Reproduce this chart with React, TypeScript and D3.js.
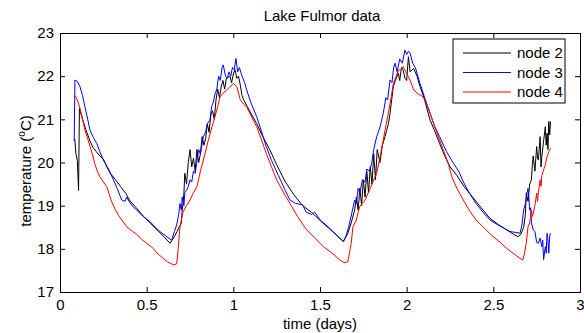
import React, { useEffect, useRef } from 'react';
import * as d3 from 'd3';

// [time (days), temperature (C)]
const node2: [number, number][] = [
  [0.085, 20.55], [0.092, 20.2], [0.1, 20.05], [0.107, 19.35], [0.112, 21.25], [0.13, 21.0], [0.15, 20.75],
  [0.173, 20.5], [0.19, 20.35], [0.21, 20.25], [0.23, 20.15], [0.25, 20.08], [0.27, 19.9], [0.29, 19.75],
  [0.32, 19.6], [0.35, 19.44], [0.38, 19.28], [0.4, 19.13], [0.44, 18.95], [0.48, 18.76], [0.52, 18.6],
  [0.56, 18.44], [0.6, 18.28], [0.635, 18.13], [0.655, 18.25], [0.675, 18.4], [0.7, 18.6], [0.705, 18.9],
  [0.71, 19.05], [0.715, 19.3], [0.72, 19.75], [0.73, 19.5], [0.74, 20.0], [0.75, 20.3], [0.76, 19.9],
  [0.77, 20.1], [0.78, 19.8], [0.79, 20.3], [0.8, 20.0], [0.81, 20.2], [0.82, 20.6], [0.83, 20.4],
  [0.84, 20.55], [0.85, 20.9], [0.86, 20.7], [0.87, 21.1], [0.88, 21.2], [0.89, 21.0], [0.9, 21.45],
  [0.91, 21.7], [0.92, 21.5], [0.93, 21.75], [0.94, 21.9], [0.95, 21.7], [0.96, 21.95], [0.98, 22.0],
  [0.99, 21.85], [1.0, 22.05], [1.01, 22.15], [1.02, 21.95], [1.03, 22.0], [1.04, 21.8], [1.05, 21.55],
  [1.06, 21.45], [1.08, 21.3], [1.1, 21.15], [1.135, 20.9], [1.17, 20.6], [1.21, 20.3], [1.25, 19.95],
  [1.3, 19.55], [1.35, 19.25], [1.4, 19.0], [1.45, 18.85], [1.5, 18.66], [1.55, 18.48], [1.6, 18.3],
  [1.635, 18.17], [1.66, 18.35], [1.68, 18.6], [1.7, 18.9], [1.71, 19.2], [1.72, 18.9], [1.73, 19.4],
  [1.74, 19.0], [1.75, 19.6], [1.76, 19.2], [1.77, 19.8], [1.78, 19.3], [1.79, 19.9], [1.8, 19.5],
  [1.81, 20.2], [1.82, 19.6], [1.83, 20.3], [1.846, 20.0], [1.86, 20.4], [1.875, 20.6], [1.885, 20.75],
  [1.895, 20.9], [1.904, 21.14], [1.915, 21.5], [1.923, 21.76], [1.935, 21.9], [1.952, 22.07], [1.96, 21.9],
  [1.97, 22.2], [1.98, 22.14], [1.99, 21.95], [2.0, 21.9], [2.01, 22.45], [2.02, 22.1], [2.04, 22.18],
  [2.06, 22.0], [2.077, 21.76], [2.1, 21.5], [2.135, 20.98], [2.16, 20.75], [2.19, 20.44], [2.22, 20.15],
  [2.25, 19.9], [2.29, 19.7], [2.33, 19.45], [2.38, 19.2], [2.43, 18.95], [2.48, 18.71], [2.53, 18.56],
  [2.577, 18.44], [2.62, 18.33], [2.644, 18.28], [2.66, 18.35], [2.675, 18.5], [2.685, 18.8], [2.69, 19.3],
  [2.7, 19.1], [2.71, 19.5], [2.72, 19.6], [2.725, 19.95], [2.73, 20.15], [2.74, 19.8], [2.75, 20.37],
  [2.755, 20.1], [2.76, 20.06], [2.77, 20.6], [2.775, 19.9], [2.78, 20.14], [2.79, 20.5], [2.8, 20.83],
  [2.805, 20.4], [2.81, 20.68], [2.815, 20.3], [2.82, 20.95], [2.825, 20.64], [2.83, 20.95],
];

const node3: [number, number][] = [
  [0.082, 20.5], [0.086, 21.91], [0.1, 21.88], [0.115, 21.76], [0.13, 21.55], [0.144, 21.29], [0.16, 21.0],
  [0.173, 20.75], [0.19, 20.6], [0.212, 20.44], [0.23, 20.25], [0.25, 20.06], [0.28, 19.85], [0.308, 19.6],
  [0.33, 19.4], [0.356, 19.13], [0.375, 19.1], [0.385, 19.2], [0.394, 19.13], [0.42, 18.98], [0.442, 18.9],
  [0.48, 18.75], [0.519, 18.63], [0.55, 18.5], [0.577, 18.4], [0.61, 18.3], [0.644, 18.2], [0.66, 18.4],
  [0.673, 18.55], [0.685, 18.8], [0.692, 19.05], [0.7, 18.9], [0.705, 19.2], [0.715, 19.0], [0.72, 19.3],
  [0.731, 19.36], [0.74, 19.45], [0.75, 19.6], [0.76, 19.55], [0.77, 19.8], [0.78, 19.75], [0.788, 19.98],
  [0.8, 20.3], [0.81, 20.2], [0.827, 20.6], [0.84, 20.7], [0.85, 20.9], [0.865, 20.98], [0.875, 21.3],
  [0.885, 21.4], [0.895, 21.6], [0.904, 21.68], [0.915, 22.0], [0.925, 21.9], [0.935, 22.2], [0.942, 22.26],
  [0.955, 22.0], [0.965, 21.95], [0.975, 22.1], [0.985, 22.0], [0.995, 22.2], [1.005, 22.15], [1.015, 22.41],
  [1.025, 22.1], [1.035, 22.2], [1.05, 22.0], [1.065, 21.85], [1.077, 21.68], [1.1, 21.4], [1.135, 21.06],
  [1.16, 20.75], [1.19, 20.37], [1.22, 20.05], [1.26, 19.7], [1.3, 19.35], [1.327, 19.13], [1.36, 19.05],
  [1.4, 19.02], [1.42, 18.85], [1.45, 18.8], [1.47, 18.85], [1.5, 18.67], [1.55, 18.5], [1.6, 18.3],
  [1.635, 18.17], [1.65, 18.3], [1.665, 18.5], [1.683, 18.82], [1.7, 19.13], [1.71, 19.05], [1.72, 19.4],
  [1.73, 19.3], [1.745, 19.6], [1.76, 19.55], [1.77, 19.85], [1.785, 19.8], [1.798, 19.98], [1.81, 20.3],
  [1.827, 20.6], [1.845, 20.8], [1.865, 21.14], [1.88, 21.5], [1.89, 21.45], [1.904, 21.91], [1.915, 21.85],
  [1.925, 22.2], [1.933, 22.3], [1.945, 22.1], [1.96, 22.4], [1.975, 22.3], [1.99, 22.6], [2.0, 22.5],
  [2.01, 22.58], [2.02, 22.53], [2.035, 22.3], [2.05, 22.2], [2.077, 21.83], [2.1, 21.55], [2.135, 21.14],
  [2.16, 20.85], [2.19, 20.6], [2.23, 20.25], [2.27, 19.98], [2.3, 19.8], [2.327, 19.55], [2.36, 19.3],
  [2.4, 19.05], [2.44, 18.85], [2.48, 18.67], [2.52, 18.57], [2.56, 18.48], [2.596, 18.4], [2.63, 18.38],
  [2.654, 18.36], [2.665, 18.55], [2.675, 18.9], [2.685, 19.05], [2.695, 19.3], [2.7, 19.4], [2.705, 19.2],
  [2.71, 18.9], [2.715, 18.95], [2.72, 18.6], [2.73, 18.44], [2.74, 18.4], [2.75, 18.15], [2.76, 18.13],
  [2.77, 18.25], [2.78, 18.05], [2.785, 18.2], [2.79, 17.75], [2.8, 18.05], [2.805, 17.9], [2.81, 18.36],
  [2.815, 18.2], [2.82, 17.9], [2.825, 18.3], [2.83, 18.36],
];

const node4: [number, number][] = [
  [0.085, 21.56], [0.1, 21.45], [0.115, 21.26], [0.13, 21.0], [0.144, 20.75], [0.16, 20.55], [0.173, 20.37],
  [0.19, 20.15], [0.2, 19.98], [0.215, 19.8], [0.23, 19.67], [0.25, 19.55], [0.27, 19.44], [0.285, 19.25],
  [0.298, 19.09], [0.32, 18.9], [0.337, 18.78], [0.36, 18.65], [0.385, 18.51], [0.42, 18.4], [0.442, 18.34],
  [0.47, 18.22], [0.5, 18.13], [0.538, 18.01], [0.56, 17.9], [0.596, 17.78], [0.62, 17.7], [0.654, 17.63],
  [0.673, 17.65], [0.682, 18.0], [0.692, 18.51], [0.71, 18.86], [0.73, 19.0], [0.75, 19.13], [0.77, 19.3],
  [0.79, 19.44], [0.81, 19.8], [0.83, 20.1], [0.856, 20.52], [0.875, 20.8], [0.894, 21.06], [0.91, 21.3],
  [0.923, 21.52], [0.94, 21.6], [0.962, 21.68], [0.98, 21.75], [1.0, 21.83], [1.02, 21.76], [1.04, 21.45],
  [1.06, 21.35], [1.077, 21.29], [1.1, 21.1], [1.135, 20.83], [1.16, 20.55], [1.19, 20.21], [1.22, 19.9],
  [1.25, 19.6], [1.29, 19.3], [1.327, 19.05], [1.37, 18.75], [1.423, 18.44], [1.47, 18.25], [1.52, 18.05],
  [1.57, 17.9], [1.615, 17.74], [1.64, 17.68], [1.66, 17.7], [1.67, 17.9], [1.68, 18.13], [1.69, 18.51],
  [1.71, 18.67], [1.72, 18.85], [1.73, 18.98], [1.76, 19.13], [1.79, 19.4], [1.81, 19.6], [1.827, 19.75],
  [1.845, 20.1], [1.865, 20.52], [1.88, 20.85], [1.894, 21.14], [1.91, 21.5], [1.923, 21.83], [1.94, 22.0],
  [1.952, 22.14], [1.965, 22.15], [1.98, 22.22], [1.995, 22.1], [2.01, 21.99], [2.025, 21.85], [2.04, 21.68],
  [2.07, 21.58], [2.096, 21.52], [2.115, 21.35], [2.135, 21.14], [2.16, 20.85], [2.19, 20.52], [2.215, 20.25],
  [2.24, 19.98], [2.26, 19.67], [2.29, 19.4], [2.327, 19.13], [2.36, 18.9], [2.4, 18.67], [2.45, 18.47],
  [2.5, 18.28], [2.54, 18.15], [2.577, 18.01], [2.62, 17.88], [2.654, 17.78], [2.67, 17.74], [2.68, 17.9],
  [2.69, 18.13], [2.7, 18.51], [2.71, 18.6], [2.72, 18.9], [2.725, 18.75], [2.73, 18.82], [2.74, 19.0],
  [2.75, 19.29], [2.755, 19.1], [2.76, 19.3], [2.77, 19.6], [2.775, 19.45], [2.78, 19.7], [2.79, 19.83],
  [2.8, 19.95], [2.81, 20.14], [2.82, 20.25], [2.83, 20.33],
];

const seriesNames = ['node 2', 'node 3', 'node 4'];
const seriesColors = ['#000000', '#0000ff', '#ff0000'];
const xTicks = [0, 0.5, 1, 1.5, 2, 2.5, 3];
const yTicks = [17, 18, 19, 20, 21, 22, 23];

export default function App() {
  const ref = useRef<SVGSVGElement>(null);

  useEffect(() => {
    const width = 584;
    const height = 333;
    const margin = { top: 33, right: 4, bottom: 41, left: 60 };
    const w = width - margin.left - margin.right;
    const h = height - margin.top - margin.bottom;
    const font = '"Liberation Sans", Arial, sans-serif';

    const svg = d3.select(ref.current);
    svg.selectAll('*').remove();

    const x = d3.scaleLinear().domain([0, 3]).range([0, w]);
    const y = d3.scaleLinear().domain([17, 23]).range([h, 0]);

    const g = svg.append('g').attr('transform', `translate(${margin.left},${margin.top})`);

    // lines
    const line = d3.line<[number, number]>().x(d => x(d[0])).y(d => y(d[1]));
    [node2, node3, node4].forEach((data, i) => {
      g.append('path')
        .attr('d', line(data))
        .attr('fill', 'none')
        .attr('stroke', seriesColors[i])
        .attr('stroke-width', 1);
    });

    // axes, MATLAB style: ticks inside on all four sides
    const tick = 5;
    const bottom = g.append('g').attr('transform', `translate(0,${h})`)
      .call(d3.axisBottom(x).tickValues(xTicks).tickSize(-tick).tickPadding(7).tickFormat(d => String(d)));
    const top = g.append('g')
      .call(d3.axisTop(x).tickValues(xTicks).tickSize(-tick).tickFormat(() => ''));
    const left = g.append('g')
      .call(d3.axisLeft(y).tickValues(yTicks).tickSize(-tick).tickPadding(6).tickFormat(d => String(d)));
    const right = g.append('g').attr('transform', `translate(${w},0)`)
      .call(d3.axisRight(y).tickValues(yTicks).tickSize(-tick).tickFormat(() => ''));
    [bottom, top, left, right].forEach(a => {
      a.selectAll('.domain').attr('stroke', '#000').attr('stroke-width', 1);
      a.selectAll('line').attr('stroke', '#000');
      a.selectAll('text').attr('fill', '#000').style('font-family', font).style('font-size', '15px');
    });

    // title and labels
    svg.append('text')
      .attr('x', 322).attr('y', 21)
      .attr('text-anchor', 'middle')
      .style('font-family', font).style('font-size', '15px')
      .text('Lake Fulmor data');
    svg.append('text')
      .attr('x', 320).attr('y', 329)
      .attr('text-anchor', 'middle')
      .style('font-family', font).style('font-size', '15px')
      .text('time (days)');
    const yl = svg.append('text')
      .attr('transform', 'translate(31,171) rotate(-90)')
      .attr('text-anchor', 'middle')
      .style('font-family', font).style('font-size', '15px');
    yl.append('tspan').text('temperature (');
    yl.append('tspan').attr('dy', -6).style('font-size', '10px').text('o');
    yl.append('tspan').attr('dy', 6).text('C)');

    // legend
    const lg = svg.append('g').attr('transform', 'translate(453,39)');
    lg.append('rect').attr('width', 112).attr('height', 64)
      .attr('fill', '#fff').attr('stroke', '#000').attr('stroke-width', 1);
    seriesNames.forEach((name, i) => {
      const ry = 14 + i * 19.5;
      lg.append('line').attr('x1', 10).attr('x2', 58).attr('y1', ry).attr('y2', ry)
        .attr('stroke', seriesColors[i]).attr('stroke-width', 1);
      lg.append('text').attr('x', 64).attr('y', ry + 5)
        .style('font-family', font).style('font-size', '15px')
        .text(name);
    });
  }, []);

  return (
    <div>
      <svg ref={ref} width={584} height={333} style={{ position: 'absolute', left: 0, top: 0 }} />
    </div>
  );
}
